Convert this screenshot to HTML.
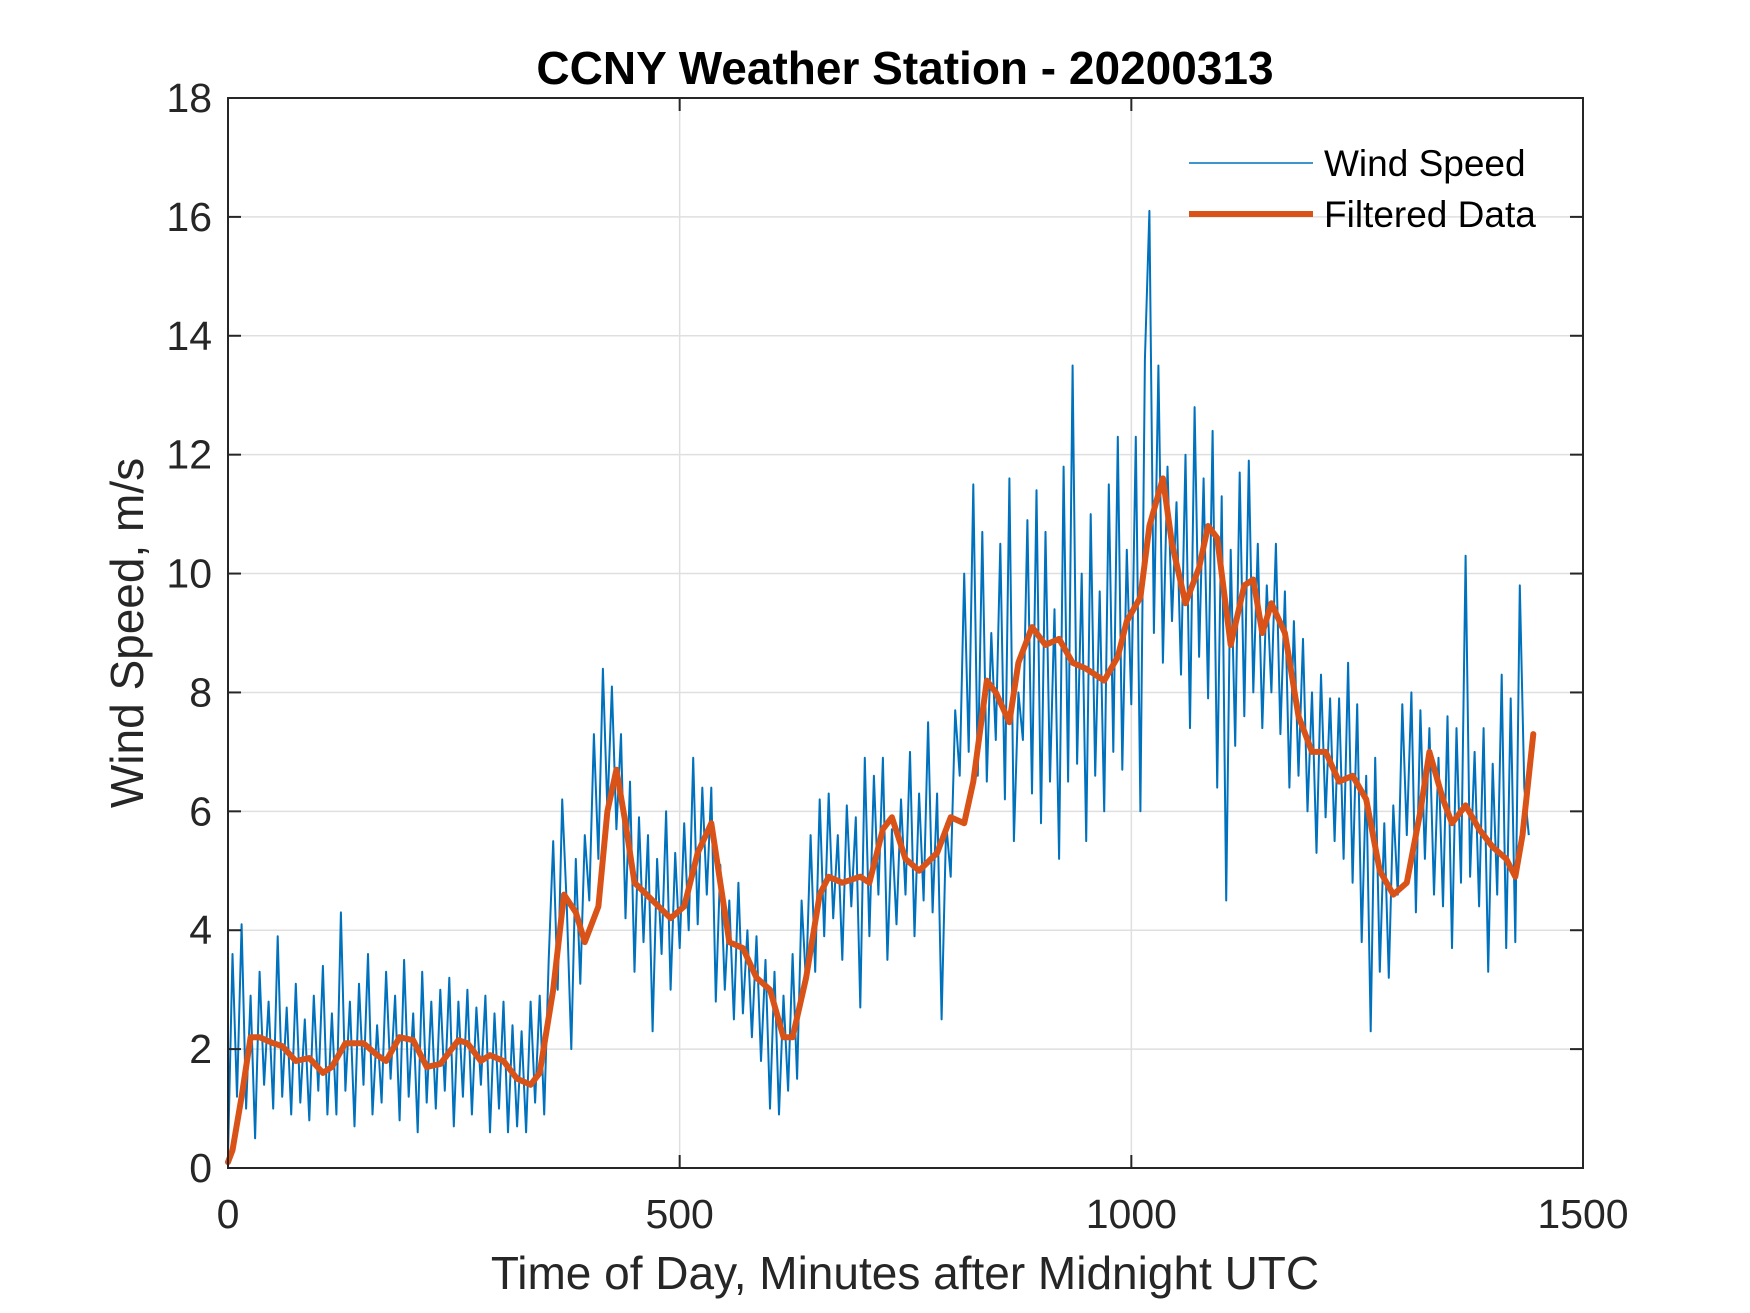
<!DOCTYPE html>
<html><head><meta charset="utf-8"><style>
html,body{margin:0;padding:0;background:#fff;}
svg{display:block;font-family:"Liberation Sans",Arial,sans-serif;}
</style></head><body>
<svg id="chart" width="1750" height="1313" viewBox="0 0 1750 1313" xmlns="http://www.w3.org/2000/svg">
<rect x="0" y="0" width="1750" height="1313" fill="#fff"/>
<g id="grid"></g>
<g id="series"></g>
<g id="axes"></g>
<text x="905" y="84" text-anchor="middle" font-size="46" font-weight="bold" fill="#000">CCNY Weather Station - 20200313</text>
<text x="905" y="1289" text-anchor="middle" font-size="46" fill="#262626">Time of Day, Minutes after Midnight UTC</text>
<text transform="translate(143,633) rotate(-90)" text-anchor="middle" font-size="46" fill="#262626">Wind Speed, m/s</text>
<g>
<line x1="1189" y1="163" x2="1313" y2="163" stroke="#0072BD" stroke-width="1.6"/>
<text x="1324" y="176" font-size="37" fill="#000">Wind Speed</text>
<line x1="1189" y1="214" x2="1313" y2="214" stroke="#D95319" stroke-width="6"/>
<text x="1324" y="227" font-size="37" fill="#000">Filtered Data</text>
</g>
</svg>
<script>
const xTicks = [0, 500, 1000, 1500];
const yTicks = [0, 2, 4, 6, 8, 10, 12, 14, 16, 18];
const windStep = 5;
const windSpeed = [
0.2,3.6,1.2,4.1,1.0,2.9,0.5,3.3,1.4,2.8,1.0,3.9,
1.2,2.7,0.9,3.1,1.1,2.5,0.8,2.9,1.3,3.4,0.9,2.6,
0.9,4.3,1.3,2.8,0.7,3.1,1.4,3.6,0.9,2.4,1.1,3.3,
1.5,2.9,0.8,3.5,1.2,2.6,0.6,3.3,1.1,2.8,1.0,3.0,
1.3,3.2,0.7,2.8,1.2,3.0,0.9,2.7,1.4,2.9,0.6,2.6,
1.0,2.8,0.6,2.4,0.7,2.3,0.6,2.8,1.1,2.9,0.9,3.5,
5.5,3.0,6.2,4.4,2.0,5.2,3.1,5.6,4.5,7.3,5.2,8.4,
6.0,8.1,5.7,7.3,4.2,6.5,3.3,5.9,3.8,5.6,2.3,5.2,
3.6,6.0,3.0,5.3,3.7,5.8,4.0,6.9,4.1,6.4,4.6,6.4,
2.8,5.1,3.0,4.5,2.5,4.8,2.6,4.0,2.2,3.9,1.8,3.5,
1.0,3.3,0.9,2.9,1.3,3.6,1.5,4.5,3.1,5.6,3.3,6.2,
3.9,6.3,4.2,5.6,3.5,6.1,4.4,5.9,2.7,6.9,3.9,6.6,
4.6,6.9,3.5,5.7,4.1,6.2,4.6,7.0,3.9,6.3,4.5,7.5,
4.3,6.3,2.5,5.8,4.9,7.7,6.6,10.0,7.0,11.5,6.6,10.7,
6.5,9.0,7.2,10.5,6.2,11.6,5.5,8.0,7.2,10.9,6.3,11.4,
5.8,10.7,6.5,9.4,5.2,11.8,6.5,13.5,6.8,10.0,5.5,11.0,
6.6,9.7,6.0,11.5,7.0,12.3,6.7,10.4,7.8,12.3,6.0,13.6,
16.1,9.0,13.5,8.5,11.8,9.2,11.2,8.3,12.0,7.4,12.8,8.6,
11.6,7.9,12.4,6.4,11.3,4.5,10.4,7.1,11.7,7.6,11.9,8.0,
10.5,7.4,9.8,8.0,10.5,7.3,9.7,6.4,9.2,6.6,8.9,6.0,
8.0,5.3,8.3,5.9,7.9,5.5,7.9,5.2,8.5,4.8,7.8,3.8,
6.6,2.3,6.9,3.3,5.8,3.2,6.1,4.6,7.8,5.6,8.0,4.3,
7.7,5.2,7.4,4.6,6.9,4.4,7.6,3.7,7.4,4.8,10.3,4.9,
7.0,4.4,7.4,3.3,6.8,4.6,8.3,3.7,7.9,3.8,9.8,6.4,
5.6];
const filtX = [0,5,15,25,35,50,60,75,90,105,115,130,150,165,175,190,205,220,235,255,265,280,290,305,320,335,345,360,372,385,395,410,420,430,440,450,470,490,505,520,535,545,555,570,585,600,615,625,640,655,665,680,700,710,725,735,750,765,785,800,815,825,840,850,865,875,890,905,920,935,950,970,985,995,1010,1020,1035,1045,1060,1075,1085,1095,1110,1125,1135,1145,1155,1170,1185,1200,1215,1230,1245,1260,1275,1290,1305,1320,1330,1345,1355,1370,1385,1400,1415,1425,1433,1445];
const filtY = [0.1,0.3,1.2,2.2,2.2,2.1,2.05,1.8,1.85,1.6,1.7,2.1,2.1,1.9,1.8,2.2,2.15,1.7,1.75,2.15,2.1,1.8,1.9,1.8,1.5,1.4,1.6,3.0,4.6,4.3,3.8,4.4,6.0,6.7,5.8,4.8,4.5,4.2,4.4,5.3,5.8,4.8,3.8,3.7,3.2,3.0,2.2,2.2,3.2,4.6,4.9,4.8,4.9,4.8,5.7,5.9,5.2,5.0,5.3,5.9,5.8,6.5,8.2,8.0,7.5,8.5,9.1,8.8,8.9,8.5,8.4,8.2,8.6,9.2,9.6,10.8,11.6,10.5,9.5,10.1,10.8,10.6,8.8,9.8,9.9,9.0,9.5,9.0,7.6,7.0,7.0,6.5,6.6,6.2,5.0,4.6,4.8,6.0,7.0,6.2,5.8,6.1,5.7,5.4,5.2,4.9,5.6,7.3];

const L=228,R=1583,T=98,B=1168;
const xMin=0,xMax=1500,yMin=0,yMax=18;
function sx(v){return L+(v-xMin)/(xMax-xMin)*(R-L);}
function sy(v){return B-(v-yMin)/(yMax-yMin)*(B-T);}
const NS='http://www.w3.org/2000/svg';
function mk(tag,attrs,parent){const e=document.createElementNS(NS,tag);for(const k in attrs)e.setAttribute(k,attrs[k]);parent.appendChild(e);return e;}
const grid=document.getElementById('grid'),axes=document.getElementById('axes'),series=document.getElementById('series');
yTicks.forEach(t=>{
  const g=mk('line',{x1:L,x2:R,y1:sy(t),y2:sy(t),stroke:'#dfdfdf','stroke-width':1.5},grid);
  
  
  const a=mk('line',{x1:L,x2:L+13,y1:sy(t),y2:sy(t),stroke:'#262626','stroke-width':2},axes);
  
  
  const b=mk('line',{x1:R-13,x2:R,y1:sy(t),y2:sy(t),stroke:'#262626','stroke-width':2},axes);
  
  
  const tx=mk('text',{x:L-16,y:sy(t)+14,'text-anchor':'end','font-size':41,fill:'#262626'},axes);
  tx.textContent=t;
  
  
});
xTicks.forEach(t=>{
  const g=mk('line',{x1:sx(t),x2:sx(t),y1:T,y2:B,stroke:'#dfdfdf','stroke-width':1.5},grid);
  
  
  const a=mk('line',{x1:sx(t),x2:sx(t),y1:B,y2:B-13,stroke:'#262626','stroke-width':2},axes);
  
  
  const b=mk('line',{x1:sx(t),x2:sx(t),y1:T,y2:T+13,stroke:'#262626','stroke-width':2},axes);
  
  
  const tx=mk('text',{x:sx(t),y:B+60,'text-anchor':'middle','font-size':41,fill:'#262626'},axes);
  tx.textContent=t;
  
  
});
const frame=mk('rect',{x:L,y:T,width:R-L,height:B-T,fill:'none',stroke:'#262626','stroke-width':2},axes);


const wp=windSpeed.map((v,i)=>sx(i*windStep).toFixed(1)+','+sy(v).toFixed(1)).join(' ');
const wl=mk('polyline',{points:wp,fill:'none',stroke:'#0072BD','stroke-width':2,'stroke-linejoin':'round'},series);


const fp=filtX.map((x,i)=>sx(x).toFixed(1)+','+sy(filtY[i]).toFixed(1)).join(' ');
const fl=mk('polyline',{points:fp,fill:'none',stroke:'#D95319','stroke-width':6,'stroke-linejoin':'round','stroke-linecap':'round'},series);


</script>
</body></html>
